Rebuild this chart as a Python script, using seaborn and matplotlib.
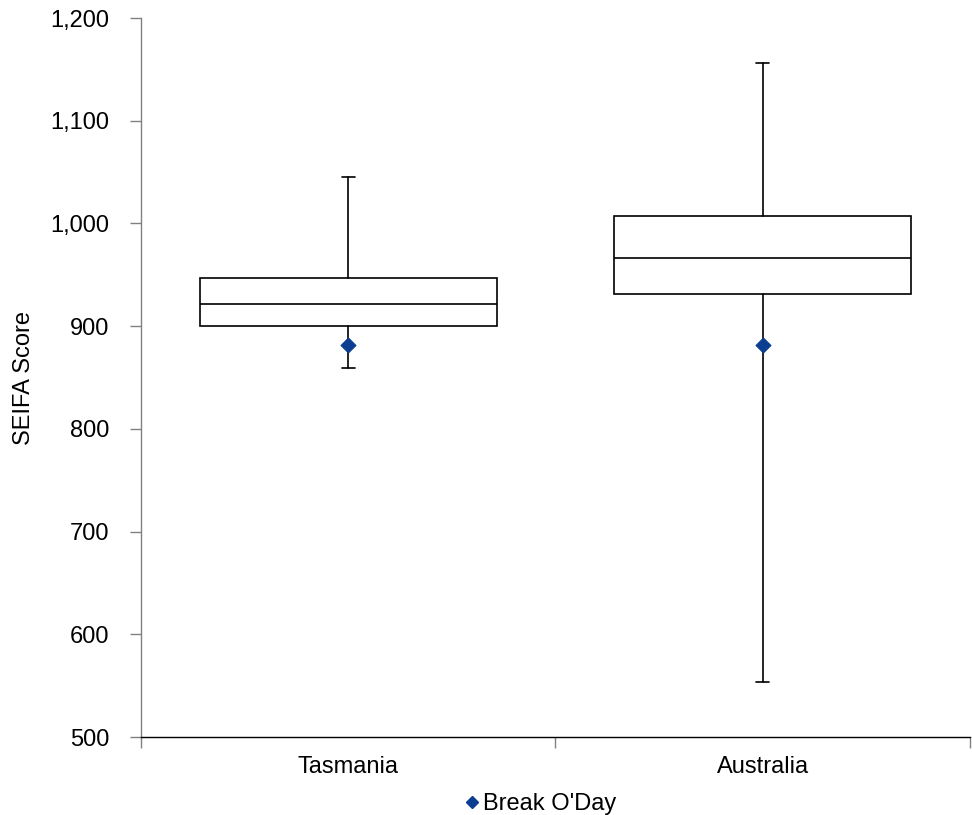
import numpy as np
import pandas as pd
import matplotlib
matplotlib.use("Agg")
import matplotlib.pyplot as plt
import seaborn as sns
from matplotlib.ticker import FuncFormatter

# box statistics
regions = ["Tasmania", "Australia"]
whisker_low = [859, 554]
q1 = [900, 931]
median = [922, 966]
q3 = [947, 1007]
whisker_high = [1045, 1156]

# the highlighted area
point_label = "Break O'Day"
point_values = [882, 882]

sns.set_style("white")
plt.rcParams["font.family"] = ["Liberation Sans", "DejaVu Sans"]
plt.rcParams["text.color"] = "black"
plt.rcParams["axes.labelcolor"] = "black"
plt.rcParams["xtick.color"] = "black"
plt.rcParams["ytick.color"] = "black"

fig = plt.figure(figsize=(9.72, 8.15), dpi=100)
ax = fig.add_axes([0.145, 0.0957, 0.853, 0.8822])

stats = []
for i, name in enumerate(regions):
    stats.append({
        "label": name,
        "whislo": whisker_low[i],
        "q1": q1[i],
        "med": median[i],
        "q3": q3[i],
        "whishi": whisker_high[i],
        "fliers": [],
    })

line = dict(color="black", linewidth=1.2)
ax.bxp(stats, positions=range(len(regions)), widths=0.716, capwidths=0.032,
       showfliers=False, patch_artist=True,
       boxprops=dict(facecolor="white", edgecolor="black", linewidth=1.2),
       medianprops=line, whiskerprops=line, capprops=line, zorder=2)

pts = pd.DataFrame({"pos": range(len(regions)), "value": point_values})
sns.scatterplot(data=pts, x="pos", y="value", marker="D", s=60, color="#0B3D91",
                edgecolor="#0B3D91", label=point_label, ax=ax, zorder=3)

ax.set_ylim(500, 1200)
ax.set_yticks(np.arange(500, 1201, 100))
ax.yaxis.set_major_formatter(FuncFormatter(lambda v, p: f"{int(v):,}"))
ax.set_xlim(-0.5, len(regions) - 0.5)
ax.set_xticks(np.arange(-0.5, len(regions), 1.0))
ax.set_xticklabels([])
ax.set_xticks(range(len(regions)), minor=True)
ax.set_xticklabels(regions, minor=True)
ax.tick_params(axis="x", which="major", length=8, width=1, color="#808080", direction="out", bottom=True)
ax.tick_params(axis="x", which="minor", length=0, labelsize=17, pad=14, labelcolor="black")
ax.tick_params(axis="y", length=8, width=1, color="#808080", direction="out", left=True,
               labelsize=17, pad=15, labelcolor="black")

ax.set_xlabel("")
ax.set_ylabel("SEIFA Score", fontsize=17, labelpad=11, color="black")

for s in ["top", "right"]:
    ax.spines[s].set_visible(False)
ax.spines["left"].set_color("#808080")
ax.spines["bottom"].set_color("black")
ax.spines["left"].set_linewidth(1)
ax.spines["bottom"].set_linewidth(1)

ax.legend_.remove()
handle = plt.Line2D([], [], marker="D", linestyle="", color="#0B3D91", markersize=6)
fig.legend([handle], [point_label], loc="center", bbox_to_anchor=(0.555, 0.013),
           frameon=False, fontsize=17, handletextpad=0.05, handlelength=0.8,
           labelcolor="black")

fig.savefig("out.png", dpi=100)
